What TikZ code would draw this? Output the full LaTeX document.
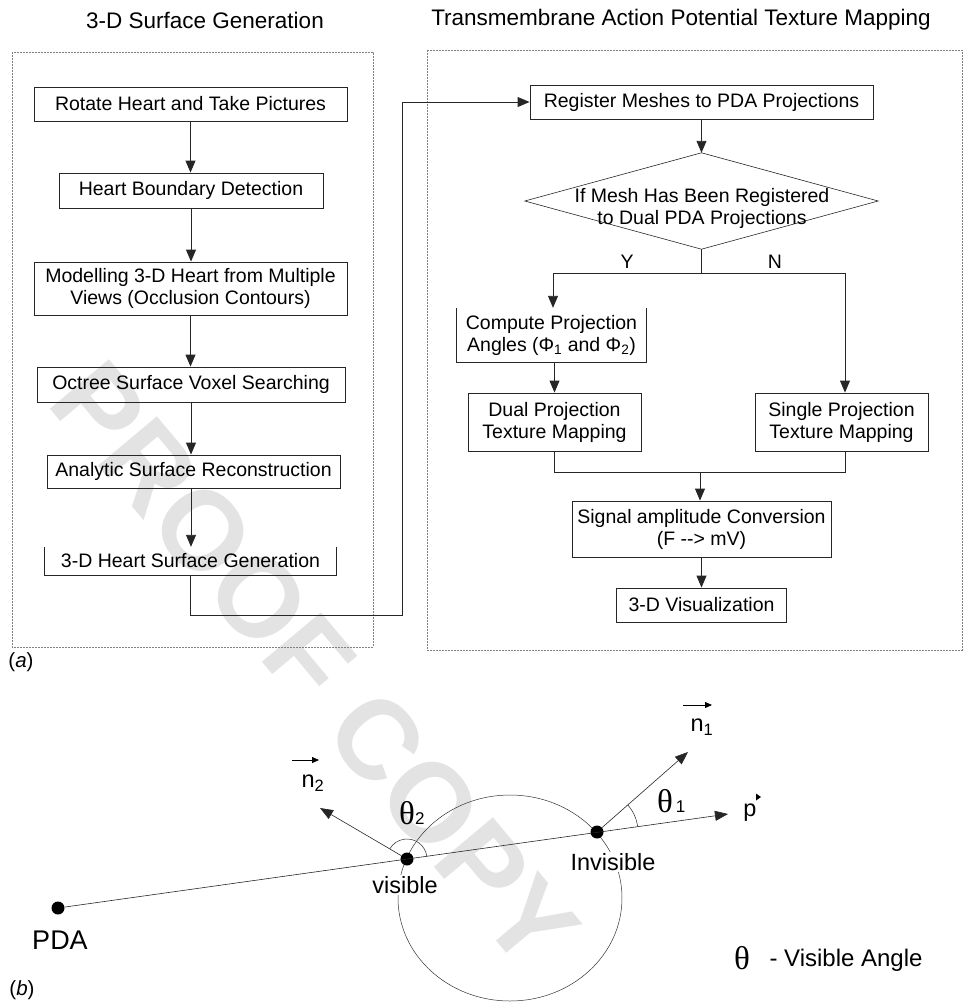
\documentclass[tikz,border=0pt]{standalone}
\usepackage{fontspec}
\setmainfont{Liberation Sans}
\newfontfamily\thfont{Liberation Serif}
\usetikzlibrary{arrows.meta}
\begin{document}
\begin{tikzpicture}[x=1pt,y=-1pt,
  txt/.style={inner sep=0pt, align=center, font=\fontsize{19.5}{22}\selectfont},
  box/.style={txt, draw=black!85, line width=0.9pt},
  ln/.style={draw=black!85, line width=0.9pt},
  arr/.style={ln, -{Triangle[length=12pt,width=10pt]}},
  thinln/.style={draw=black!85, line width=0.6pt},
  thinarr/.style={thinln, -{Triangle[length=13pt,width=10pt]}},
  vecarr/.style={draw=black, line width=0.8pt, -{Triangle[length=7pt,width=6pt]}},
  frame/.style={draw=black!50, line width=0.6pt, dash pattern=on 2pt off 1pt},
  title/.style={font=\fontsize{22.5}{26}\selectfont},
  lab/.style={font=\fontsize{23.5}{27}\selectfont, inner sep=1pt},
  dot/.style={circle, fill=black, inner sep=0pt, minimum size=13pt},
  thl/.style={font=\fontsize{17}{18}\selectfont, inner sep=0pt},
]
\useasboundingbox (0,0) rectangle (964,1005);

% watermark
\node[rotate=-50, text=black!11, font=\bfseries\fontsize{112}{112}\selectfont] (wm) at (315,665) {PROOF COPY};

% titles
\node[title] (t1) at (205,20) {3-D Surface Generation};
\node[title] (t2) at (681,20) {Transmembrane Action Potential Texture Mapping};

% frames
\draw[frame] (12,52) rectangle (373,647);
\draw[frame] (427,50) rectangle (962,650);

% left column
\node[box, minimum width=313pt, minimum height=34pt] (b1) at (190.5,104) {Rotate Heart and Take Pictures};
\node[box, minimum width=264pt, minimum height=35pt] (b2) at (191,190.5) {Heart Boundary Detection};
\node[box, minimum width=313pt, minimum height=53pt] (b3) at (190.5,288.5) {Modelling 3-D Heart from Multiple\\Views (Occlusion Contours)};
\node[box, minimum width=308pt, minimum height=35pt] (b4) at (191,384.5) {Octree Surface Voxel Searching};
\node[box, minimum width=293pt, minimum height=33pt] (b5) at (193.5,471.5) {Analytic Surface Reconstruction};
\node[txt, minimum width=291pt, minimum height=28pt] (b6) at (190.5,561) {3-D Heart Surface Generation};
\draw[ln] (b6.north west) -- (b6.south west) -- (b6.south east) -- (b6.north east);

\draw[arr] (b1.south) -- (b1.south |- b2.north);
\draw[arr] (b2.south) -- (b2.south |- b3.north);
\draw[arr] (b3.south) -- (b3.south |- b4.north);
\draw[arr] (b4.south) -- (b4.south |- b5.north);
\draw[arr] (b4.south |- b5.south) -- (b4.south |- b6.north);

% right column
\node[box, minimum width=343pt, minimum height=34pt] (reg) at (701.5,102) {Register Meshes to PDA Projections};
\node[minimum width=353pt, minimum height=96pt, inner sep=0pt] (dec) at (701.5,201) {};
\draw[thinln] (dec.north) -- (dec.east) -- (dec.south) -- (dec.west) -- cycle;
\node[txt] (dect) at (702,208) {If Mesh Has Been Registered\\to Dual PDA Projections};

\coordinate (c1) at (402,615);
\coordinate (c2) at (402,102);
\draw[arr] (b6.south) |- (c1) -- (c2) -- (reg.west);
\draw[arr] (reg.south) -- (dec.north);

\coordinate (split) at (701.5,273);
\coordinate (yb) at (553,273);
\coordinate (nb) at (845,273);
\node[txt] (ylab) at (627,262) {Y};
\node[txt] (nlab) at (775,262) {N};

\node[txt, minimum width=189pt, minimum height=54pt] (comp) at (551.5,335) {Compute Projection\\Angles (Φ\textsubscript{1} and Φ\textsubscript{2})};
\draw[ln] (comp.north west) -- (comp.south west) -- (comp.south east) -- (comp.north east);
\node[box, minimum width=173pt, minimum height=58pt] (dual) at (554.5,422) {Dual Projection\\Texture Mapping};
\node[box, minimum width=173pt, minimum height=58pt] (sing) at (841.5,422) {Single Projection\\Texture Mapping};
\node[box, minimum width=259pt, minimum height=56pt] (sig) at (701.5,529) {Signal amplitude Conversion\\(F -{}-> mV)};
\node[box, minimum width=170pt, minimum height=34pt] (vis) at (701.5,605) {3-D Visualization};

\draw[ln] (dec.south) -- (split);
\draw[arr] (split) -- (yb) -- (yb |- comp.north);
\draw[arr] (split) -- (nb) -- (nb |- sing.north);
\draw[arr] (dual.north |- comp.south) -- (dual.north);
\coordinate (m) at (700,472);
\draw[ln] (dual.south) |- (m);
\draw[ln] (nb |- sing.south) |- (m);
\draw[arr] (m) -- (m |- sig.north);
\draw[arr] (sig.south) -- (vis.north);

% labels (a), (b)
\node[font=\fontsize{20.5}{24}\selectfont, inner sep=0pt] (la) at (21,662) {(\textit{a})};
\node[font=\fontsize{20.5}{24}\selectfont, inner sep=0pt] (lb) at (22,990) {(\textit{b})};

% part (b)
\draw[draw=black!80, line width=0.5pt] (510,898) ellipse [x radius=112, y radius=103];
\node[dot] (pda) at (58,908) {};
\node[dot] (vpt) at (407,859) {};
\node[dot] (ipt) at (597,832) {};
\coordinate (ptip) at (728,814);
\coordinate (n1tip) at (688,752);
\coordinate (n2tip) at (320,808);

\draw[thinarr] (pda) -- (ptip);
\draw[thinarr] (ipt) -- (n1tip);
\draw[thinarr] (vpt) -- (n2tip);

\draw[draw=black!85, line width=0.5pt] ([shift={(-7.8:41)}]ipt.center) arc[start angle=-7.8, end angle=-41.3, radius=41];
\draw[draw=black!85, line width=0.5pt] ([shift={(-7.8:20)}]vpt.center) arc[start angle=-7.8, end angle=-149.6, radius=20];

\node[lab, fill=white] (visl) at (405,885) {visible};
\node[lab, fill=white] (invl) at (613,862) {Invisible};
\node[font=\fontsize{27}{30}\selectfont, inner sep=0pt] (pdal) at (60,940) {PDA};

\node[thl, anchor=base west] (th1) at (657,812) {{\thfont\fontsize{33}{34}\selectfont θ}\,1};
\node[thl, anchor=base west] (th2) at (399,824) {{\thfont\fontsize{33}{34}\selectfont θ}2};

\node[lab, inner sep=0pt] (n1l) at (702,727) {n\textsubscript{1}};
\coordinate (n1a) at (683,705);
\coordinate (n1b) at (712,705);
\draw[vecarr] (n1a) -- (n1b);
\node[lab, inner sep=0pt] (n2l) at (313,783) {n\textsubscript{2}};
\coordinate (n2a) at (292,760);
\coordinate (n2b) at (319,760);
\draw[vecarr] (n2a) -- (n2b);

\node[lab, inner sep=0pt] (pl) at (750,813) {p};
\fill[black] (756,793.5) -- (761,797) -- (756,800.5) -- cycle;

\node[font=\thfont\fontsize{33}{34}\selectfont, inner sep=0pt] (thleg) at (742,958) {θ};
\node[font=\fontsize{24}{28}\selectfont, inner sep=0pt] (leg) at (846,960) {- Visible Angle};
\end{tikzpicture}
\end{document}
